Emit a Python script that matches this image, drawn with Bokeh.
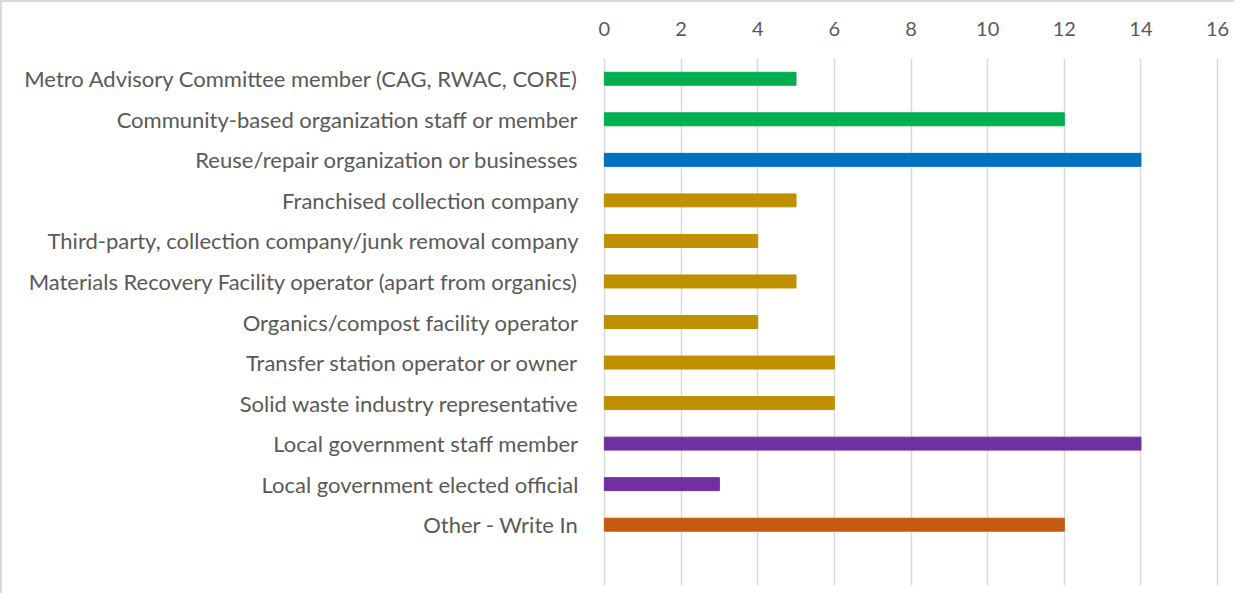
from bokeh.plotting import figure
from bokeh.models import ColumnDataSource, FactorRange, Range1d, LinearAxis, FixedTicker
from bokeh.embed import file_html
from bokeh.resources import INLINE

categories = [
    "Metro Advisory Committee member (CAG, RWAC, CORE)",
    "Community-based organization staff or member",
    "Reuse/repair organization or businesses",
    "Franchised collection company",
    "Third-party, collection company/junk removal company",
    "Materials Recovery Facility operator (apart from organics)",
    "Organics/compost facility operator",
    "Transfer station operator or owner",
    "Solid waste industry representative",
    "Local government staff member",
    "Local government elected official",
    "Other - Write In",
]
counts = [5, 12, 14, 5, 4, 5, 4, 6, 6, 14, 3, 12]
colors = ["#00B050", "#00B050", "#0070C0", "#BF9000", "#BF9000", "#BF9000",
          "#BF9000", "#BF9000", "#BF9000", "#7030A0", "#7030A0", "#C55A11"]
x_ticks = [0, 2, 4, 6, 8, 10, 12, 14, 16]

FONT = "Lato"
TEXT_COLOR = "#595959"

factors = list(reversed(categories + [" "]))

p = figure(width=1234, height=593, output_backend="svg", toolbar_location=None,
           y_range=FactorRange(factors=factors, range_padding=0),
           x_range=Range1d(-0.05, 16.05), x_axis_location=None,
           min_border_left=600, min_border_right=17, min_border_top=56, min_border_bottom=10)
p.styles = {"border-top": "2px solid #d9d9d9", "border-left": "2px solid #d9d9d9"}

src = ColumnDataSource(dict(cat=categories, val=counts, color=colors))
p.hbar(y="cat", right="val", left=0, height=0.32, color="color", source=src)

xax = LinearAxis(ticker=FixedTicker(ticks=x_ticks))
xax.axis_line_color = None
xax.major_tick_line_color = None
xax.minor_tick_line_color = None
xax.major_label_text_font = FONT
xax.major_label_text_font_size = "20px"
xax.major_label_text_color = TEXT_COLOR
xax.major_label_standoff = 17
p.add_layout(xax, "above")

yax = p.yaxis[0]
yax.axis_line_color = None
yax.major_tick_line_color = None
yax.minor_tick_line_color = None
yax.major_label_text_font = FONT
yax.major_label_text_font_size = "22px"
yax.major_label_text_color = TEXT_COLOR
yax.major_label_standoff = 18

p.xgrid.ticker = FixedTicker(ticks=x_ticks)
p.xgrid.grid_line_color = "#d9d9d9"
p.xgrid.grid_line_width = 1.5
p.ygrid.grid_line_color = None
p.outline_line_color = None
p.background_fill_color = "white"
p.border_fill_color = "white"

open("out.html", "w").write(file_html(p, INLINE))
